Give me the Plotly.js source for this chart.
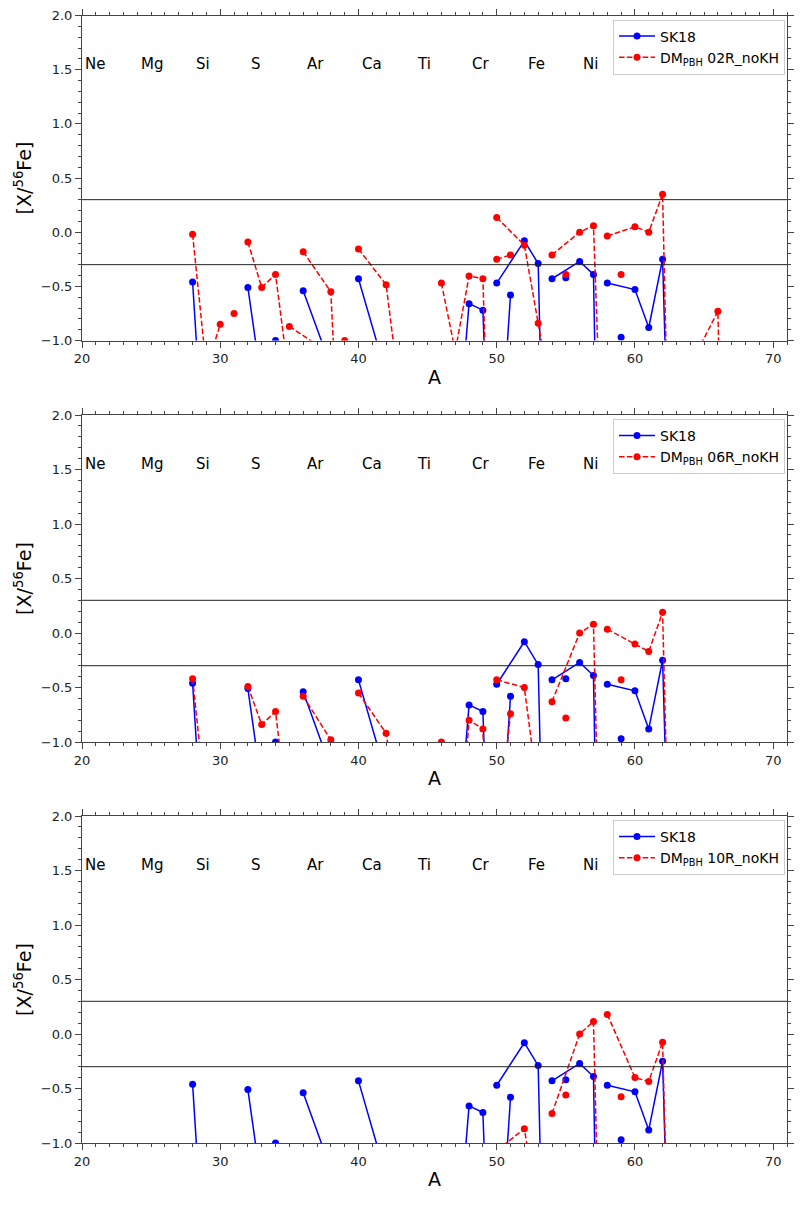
<!DOCTYPE html>
<html>
<head>
<meta charset="utf-8">
<script src="https://cdn.plot.ly/plotly-3.0.1.min.js"></script>
<style>
  html, body { margin: 0; padding: 0; background: #ffffff; }
  #chart { width: 801px; height: 1216px; }
</style>
</head>
<body>
<div id="chart"></div>
<script>
// ---- Data ----
const elementNames = ['Ne','Na','Mg','Al','Si','P','S','Cl','Ar','K','Ca','Sc','Ti','V','Cr','Mn','Fe','Co','Ni','Cu','Zn'];
const isotopeA = [
  [20,21,22],[23],[24,25,26],[27],[28,29,30],[31],[32,33,34,36],[35,37],[36,38,40],[39,41],
  [40,42,43,44,46,48],[45],[46,47,48,49,50],[50,51],[50,52,53,54],[55],[54,56,57,58],[59],
  [58,60,61,62,64],[63,65],[64,66,67,68,70]
];

// [X/56Fe] values, per element, same order as isotopeA
const sk18 = [
  [-2.5,-3.0,-2.8],[-2.5],[-2.0,-2.5,-2.5],[-2.5],
  [-0.46,-2.46,-2.5],[-2.5],
  [-0.51,-1.41,-1.0,-3.5],[-2.5,-2.5],
  [-0.54,-1.24,-3.0],[-2.5,-2.5],
  [-0.43,-1.31,-2.0,-1.6,-4.0,-3.0],[-2.5],
  [-2.5,-2.2,-0.66,-0.72,-4.2],[-2.5,-0.58],
  [-0.47,-0.08,-0.29,-5.7],[-0.42],
  [-0.43,-0.27,-0.39,-7.4],[-0.97],
  [-0.47,-0.53,-0.88,-0.25,-9.0],[-3.0,-3.0],
  [-3.0,-3.0,-3.0,-3.0,-3.0]
];
const dm02R = [
  [-2.5,-2.5,-2.5],[-2.5],[-2.5,-2.5,-2.5],[-2.5],
  [-0.02,-1.26,-0.85],[-0.75],
  [-0.09,-0.51,-0.39,-2.36],[-0.87,-1.04],
  [-0.18,-0.55,-5.8],[-1.0,-2.5],
  [-0.155,-0.485,-1.5,-2.0,-3.0,-3.0],[-2.5],
  [-0.47,-1.1,-0.405,-0.43,-4.5],[-0.25,-0.21],
  [0.135,-0.12,-0.84,-1.57],[-0.39],
  [-0.21,0.0,0.06,-3.5],[-0.39],
  [-0.035,0.05,0.0,0.35,-11.0],[-2.5,-2.5],
  [-1.23,-0.73,-6.0,-6.0,-6.0]
];
const dm06R = [
  [-2.5,-2.5,-2.5],[-2.5],[-2.5,-2.5,-2.5],[-2.5],
  [-0.42,-1.62,-1.8],[-2.5],
  [-0.49,-0.84,-0.72,-2.86],[-2.5,-2.5],
  [-0.58,-0.98,-5.0],[-2.5,-2.5],
  [-0.55,-0.92,-1.7,-2.5,-3.0,-3.0],[-2.5],
  [-1.0,-2.5,-0.80,-0.88,-5.0],[-1.94,-0.74],
  [-0.43,-0.50,-1.47,-3.0],[-0.78],
  [-0.63,0.0,0.08,-5.0],[-0.43],
  [0.035,-0.10,-0.17,0.19,-10.0],[-2.5,-2.5],
  [-3.0,-3.0,-3.0,-3.0,-3.0]
];
const dm10R = [
  [-2.5,-2.5,-2.5],[-2.5],[-2.5,-2.5,-2.5],[-2.5],
  [-2.5,-2.5,-2.5],[-2.5],
  [-2.5,-2.5,-2.5,-3.0],[-2.5,-2.5],
  [-2.5,-2.5,-5.0],[-2.5,-2.5],
  [-2.5,-2.5,-2.5,-2.5,-3.0,-3.0],[-2.5],
  [-3.0,-3.0,-3.0,-3.0,-5.0],[-2.5,-2.5],
  [-1.07,-0.87,-1.63,-3.0],[-0.56],
  [-0.73,0.0,0.115,-5.0],[-0.575],
  [0.18,-0.40,-0.435,-0.075,-10.0],[-2.5,-2.5],
  [-3.0,-3.0,-3.0,-3.0,-3.0]
];
const modelNames = ['02R_noKH','06R_noKH','10R_noKH'];
const modelValues = [dm02R, dm06R, dm10R];

const labelElements = ['Ne','Mg','Si','S','Ar','Ca','Ti','Cr','Fe','Ni'];
const labelA = [20,24,28,32,36,40,44,48,52,56];
const labelY = 1.55;
const bandLevels = [0.3, -0.3];

// ---- Build ----
function flatten(values) {
  const xs = [], ys = [];
  isotopeA.forEach((grp, i) => {
    if (i > 0) { xs.push(null); ys.push(null); }
    grp.forEach((a, j) => { xs.push(a); ys.push(values[i][j]); });
  });
  return {xs, ys};
}

const W = 801, H = 1216;
const plotL = 82, plotR = 787;
const panelPx = [[15.5, 340.5], [415, 742], [816, 1143]]; // top, bottom in px
const font = 'DejaVu Sans, sans-serif';

const traces = [];
const layout = {
  width: W, height: H,
  margin: {l: plotL, r: W - plotR, t: 0, b: 0},
  paper_bgcolor: '#ffffff', plot_bgcolor: '#ffffff',
  font: {family: font, color: '#000000', size: 13},
  shapes: [], annotations: []
};

modelNames.forEach((mname, i) => {
  const sfx = i === 0 ? '' : String(i + 1);
  const xa = 'x' + sfx, ya = 'y' + sfx;
  const lg = 'legend' + sfx;
  const b = flatten(sk18);
  const r = flatten(modelValues[i]);
  traces.push({
    x: b.xs, y: b.ys, xaxis: xa, yaxis: ya, legend: lg,
    type: 'scatter', mode: 'lines+markers', name: 'SK18',
    connectgaps: false,
    line: {color: '#0000ff', width: 1.5},
    marker: {color: '#0000ff', size: 7}
  });
  traces.push({
    x: r.xs, y: r.ys, xaxis: xa, yaxis: ya, legend: lg,
    type: 'scatter', mode: 'lines+markers', name: 'DM<sub>PBH</sub> ' + mname,
    connectgaps: false,
    line: {color: '#ff0000', width: 1.5, dash: '5.5px,2.4px'},
    marker: {color: '#ff0000', size: 7}
  });

  const [top, bot] = panelPx[i];
  const axCommon = {
    showline: true, linecolor: '#444444', linewidth: 1, mirror: 'allticks',
    ticks: 'outside', ticklen: 6, tickwidth: 1, tickcolor: '#444444',
    showgrid: false, zeroline: false, automargin: false,
    tickfont: {family: font, size: 13, color: '#222222'}
  };
  layout['xaxis' + sfx] = Object.assign({}, axCommon, {
    anchor: ya, domain: [0, 1], range: [20, 71],
    tick0: 0, dtick: 10,
    minor: {ticks: 'outside', ticklen: 3, tickwidth: 1, tickcolor: '#444444', dtick: 1, showgrid: false},
    title: {text: 'A', font: {family: font, size: 19, color: '#000000'}, standoff: 5}
  });
  layout['yaxis' + sfx] = Object.assign({}, axCommon, {
    anchor: xa, domain: [1 - bot / H, 1 - top / H], range: [-1, 2],
    tick0: 0, dtick: 0.5, tickformat: '.1f',
    minor: {ticks: 'outside', ticklen: 3, tickwidth: 1, tickcolor: '#444444', dtick: 0.1, showgrid: false},
    title: {text: '[X/<sup>56</sup>Fe]', font: {family: font, size: 19, color: '#000000'}, standoff: 4}
  });
  layout[lg] = {
    x: (785 - plotL) / (plotR - plotL), xanchor: 'right',
    y: 1 - (top + 4) / H, yanchor: 'top',
    bgcolor: 'rgba(255,255,255,0.85)', bordercolor: '#cccccc', borderwidth: 1,
    font: {family: font, size: 14, color: '#000000'},
    tracegroupgap: 0, itemwidth: 36
  };
  bandLevels.forEach(v => {
    layout.shapes.push({
      type: 'line', xref: xa + ' domain', x0: 0, x1: 1, yref: ya, y0: v, y1: v,
      line: {color: '#222222', width: 1}
    });
  });
  labelElements.forEach((el, k) => {
    layout.annotations.push({
      xref: xa, yref: ya, x: labelA[k] + 0.1, y: labelY,
      text: el, showarrow: false, xanchor: 'left', yanchor: 'middle',
      font: {family: font, size: 15, color: '#000000'}
    });
  });
});

Plotly.newPlot('chart', traces, layout, {displayModeBar: false, staticPlot: true});
</script>
</body>
</html>
